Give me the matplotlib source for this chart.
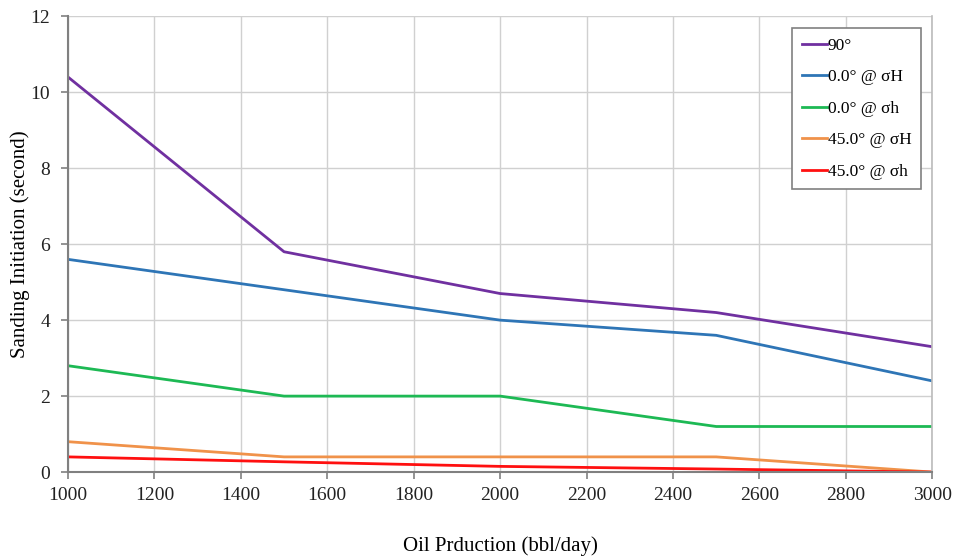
import matplotlib
matplotlib.use('Agg')
import matplotlib.pyplot as plt

# oil production rates (bbl/day)
production = [1000, 1500, 2000, 2500, 3000]

# sanding initiation time (second) per well orientation
s_90 = [10.4, 5.8, 4.7, 4.2, 3.3]
s_0_sH = [5.6, 4.8, 4.0, 3.6, 2.4]
s_0_sh = [2.8, 2.0, 2.0, 1.2, 1.2]
s_45_sH = [0.8, 0.4, 0.4, 0.4, 0.0]
s_45_sh = [0.4, 0.27, 0.15, 0.08, 0.0]

labels = ['90°', '0.0° @ σH', '0.0° @ σh', '45.0° @ σH', '45.0° @ σh']
colors = ['#7030A0', '#2E75B6', '#1DB954', '#F0924A', '#FF1010']

plt.rcParams['font.family'] = ['Liberation Serif', 'DejaVu Serif']

fig = plt.figure(figsize=(9.55, 5.6), dpi=100)
ax = fig.add_axes([0.0712, 0.157, 0.905, 0.814])

series = [s_90, s_0_sH, s_0_sh, s_45_sH, s_45_sh]
for vals, lab, col in zip(series, labels, colors):
    ax.plot(production, vals, color=col, lw=2, label=lab)

ax.set_xlim(1000, 3000)
ax.set_ylim(0, 12)
ax.set_xticks(range(1000, 3001, 200))
ax.set_yticks(range(0, 13, 2))
ax.grid(True, color='#D0D0D0', lw=1)
ax.set_axisbelow(True)
ax.spines['top'].set_visible(False)
ax.spines['right'].set_color('#BBBBBB')
ax.spines['right'].set_linewidth(1.2)
for side in ['left', 'bottom']:
    ax.spines[side].set_color('#808080')
    ax.spines[side].set_linewidth(1.5)
ax.tick_params(labelsize=14, length=5, width=1.2, color='#808080', colors='#222222')
ax.tick_params(axis='x', pad=6)
ax.tick_params(axis='y', pad=8)

ax.set_xlabel('Oil Prduction (bbl/day)', fontsize=15)
ax.xaxis.set_label_coords(0.5, -0.14)
ax.set_ylabel('Sanding Initiation (second)', fontsize=15)
ax.yaxis.label.set_va('center')
ax.yaxis.set_label_coords(-0.055, 0.5)

leg = ax.legend(loc='upper right', bbox_to_anchor=(0.993, 0.985), fontsize=12.5,
                fancybox=False, framealpha=1, edgecolor='#808080',
                handlelength=1.45, handletextpad=0.05, labelspacing=0.88,
                borderpad=0.55, borderaxespad=0.3)
leg.get_frame().set_linewidth(1.2)

fig.savefig('out.png', dpi=100)
